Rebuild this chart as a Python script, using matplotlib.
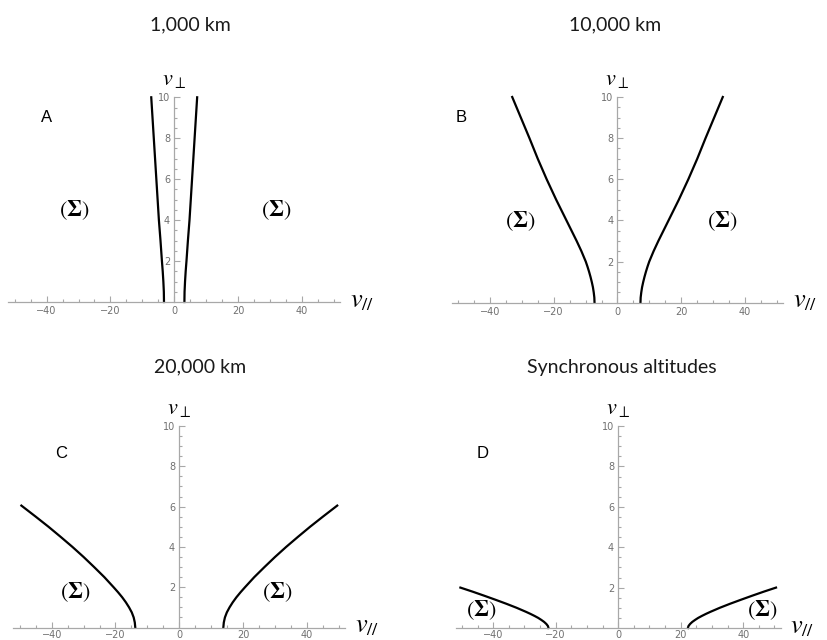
import numpy as np
import matplotlib
matplotlib.use("Agg")
import matplotlib.pyplot as plt

plt.rcParams['mathtext.fontset'] = 'stix'

# boundary curves (right branch, left one is its mirror)
vperp_A = [0, 0.5, 1, 1.5, 2, 3, 4, 5, 6, 7, 8, 9, 10]
vpar_A = [3.2, 3.25, 3.4, 3.6, 3.85, 4.3, 4.8, 5.2, 5.6, 6.0, 6.4, 6.8, 7.2]

vperp_B = [0, 0.25, 0.5, 0.75, 1, 1.25, 1.5, 1.75, 2, 2.5, 3, 3.5, 4, 5, 6, 7, 8, 9, 10]
vpar_B = [7.2, 7.26, 7.45, 7.7, 8.05, 8.45, 8.9, 9.4, 9.95, 11.3, 12.8, 14.4,
          16.0, 19.2, 22.2, 25.0, 27.6, 30.3, 33.0]

vperp_C = [0, 0.25, 0.5, 0.75, 1, 1.25, 1.5, 1.75, 2, 2.5, 3, 3.5, 4, 4.5, 5, 5.5, 6.05]
vpar_C = [13.8, 13.95, 14.3, 14.9, 15.75, 16.75, 17.9, 19.2, 20.6, 23.5, 26.7, 30.0,
          33.5, 37.2, 41.0, 45.0, 49.5]

vperp_D = [0, 0.1, 0.2, 0.3, 0.4, 0.5, 0.6, 0.7, 0.8, 0.9, 1.0, 1.2, 1.4, 1.6, 1.8, 2.0]
vpar_D = [22.3, 22.5, 23.0, 23.7, 24.6, 25.6, 26.8, 28.1, 29.5, 31.0, 32.5, 35.8,
          39.3, 42.9, 46.6, 50.5]

titles = ["1,000 km", "10,000 km", "20,000 km", "Synchronous altitudes"]
letters = ["A", "B", "C", "D"]

W, H = 828, 640
fig = plt.figure(figsize=(W / 100, H / 100), dpi=100)

# (left px, right px, y0 px, y10 px)
boxes = [(8.4, 340.0, 302.0, 97.3),
         (451.6, 783.4, 302.7, 97.0),
         (13.4, 345.2, 627.5, 426.0),
         (455.7, 780.7, 628.0, 426.0)]
curves = [(vperp_A, vpar_A), (vperp_B, vpar_B), (vperp_C, vpar_C), (vperp_D, vpar_D)]
letter_pos = [(-40, 9.0), (-48.9, 9.0), (-37, 8.66), (-43.5, 8.66)]
sigma_pos = [[(-31.3, 4.5), (32, 4.5)],
             [(-30.6, 3.95), (32.9, 3.95)],
             [(-32.6, 1.73), (30.7, 1.73)],
             [(-43.7, 0.87), (46, 0.87)]]
title_pos = [(190, 25), (615, 25), (200, 367), (622, 367)]

axcol = "#a8a8a8"
labcol = "#707070"

for i in range(4):
    l, r, yb, yt = boxes[i]
    ax = fig.add_axes([l / W, (H - yb) / H, (r - l) / W, (yb - yt) / H])
    ax.set_xlim(-52, 52)
    ax.set_ylim(0, 10)
    vp, vx = curves[i]
    ax.plot(vx, vp, color="black", lw=1.6, clip_on=False, solid_joinstyle="round")
    ax.plot([-v for v in vx], vp, color="black", lw=1.6, clip_on=False,
            solid_joinstyle="round")

    ax.patch.set_visible(False)
    for s in ["top", "right"]:
        ax.spines[s].set_visible(False)
    ax.spines["left"].set_position(("data", 0))
    ax.spines["bottom"].set_position(("data", 0))
    for s in ["left", "bottom"]:
        ax.spines[s].set_color(axcol)
        ax.spines[s].set_linewidth(0.9)
    ax.set_xticks([-40, -20, 0, 20, 40])
    ax.set_xticks(np.arange(-50, 51, 5), minor=True)
    ax.set_yticks([2, 4, 6, 8, 10])
    ax.set_yticks(np.arange(0.5, 10.01, 0.5), minor=True)
    ax.tick_params(which="both", direction="in", color=axcol, width=0.8,
                   labelsize=7, labelcolor=labcol, pad=3)
    ax.tick_params(axis="x", pad=1.5 if i >= 2 else 3)
    ax.tick_params(which="major", length=4)
    ax.tick_params(which="minor", length=2.2)

    ax.text(0, 10.85, r"$v_\perp$", fontsize=16, ha="center", va="center")
    ax.text(55, 0.1, r"$v_{//}$", fontsize=19, ha="left", va="center", clip_on=False)
    lx, ly = letter_pos[i]
    ax.text(lx, ly, letters[i], fontsize=12, family="Liberation Sans",
            ha="center", va="center")
    for sx, sy in sigma_pos[i]:
        ax.text(sx, sy, r"$(\mathbf{\Sigma})$", fontsize=16, ha="center", va="center")

    tx, ty = title_pos[i]
    fig.text(tx / W, 1 - ty / H, titles[i], fontsize=14, family="Lato",
             ha="center", va="center", color="#1a1a1a")

fig.savefig("out.png", dpi=100)
